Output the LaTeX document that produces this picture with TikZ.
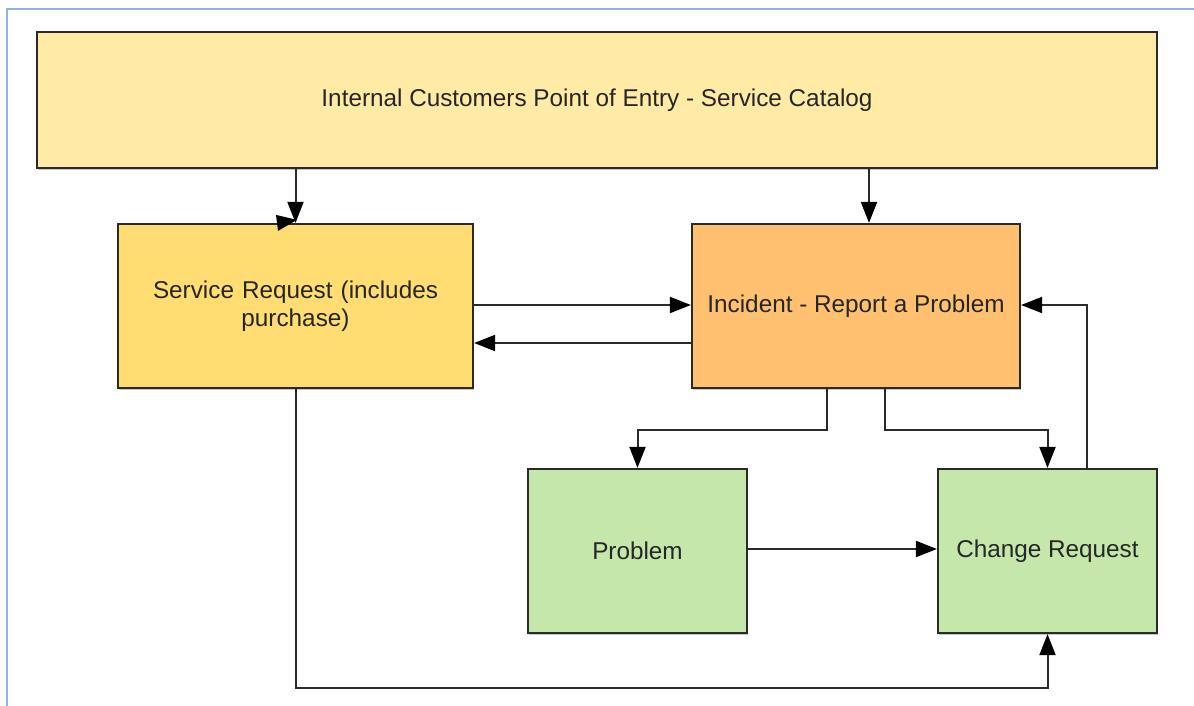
\documentclass[tikz,border=0pt]{standalone}
\usepackage{fontspec}
\setmainfont{Liberation Sans}
\usetikzlibrary{arrows.meta,shadows}
\definecolor{edgegray}{HTML}{2A2A2A}
\definecolor{txtgray}{HTML}{262626}
\definecolor{framecol}{RGB}{141,180,226}
\definecolor{catfill}{RGB}{255,235,166}
\definecolor{reqfill}{RGB}{255,221,115}
\definecolor{incfill}{RGB}{255,193,112}
\definecolor{grnfill}{RGB}{198,231,171}
\tikzset{
  box/.style={draw=edgegray, line width=2.2pt, rectangle, inner sep=0pt,
    align=center, text=txtgray,
    font=\fontsize{24.3}{28.5}\selectfont,
    drop shadow={shadow xshift=1pt, shadow yshift=-1.5pt, fill=black, opacity=0.22}},
  arr/.style={draw=edgegray, line width=2pt,
    -{Triangle[length=21pt,width=16pt,color=black]}}
}
\begin{document}
\begin{tikzpicture}[x=1pt,y=-1pt]
\useasboundingbox (0,0) rectangle (1194,706);
\fill[white] (0,0) rectangle (1194,706);
% outer frame line (top and left)
\draw[framecol, line width=1.6pt] (7,706) -- (7,9) -- (1194,9);

% boxes
\node[box, fill=catfill, minimum width=1120pt, minimum height=136pt] (cat) at (597,100)
  {Internal Customers Point of Entry - Service Catalog};
\node[box, fill=reqfill, minimum width=355pt, minimum height=164pt, text width=320pt] (req) at (295.5,306)
  {Service Request (includes\\purchase)};
\node[box, fill=incfill, minimum width=328pt, minimum height=164pt] (inc) at (856,306)
  {Incident - Report a Problem};
\node[box, fill=grnfill, minimum width=219pt, minimum height=164pt] (prob) at (637.5,551)
  {Problem};
\node[box, fill=grnfill, minimum width=219pt, minimum height=164pt] (chg) at (1047.5,551)
  {Change Request};

% entry point on the incident box
\coordinate (incin) at ([xshift=13pt]inc.north);

% connectors
\draw[arr] (cat.south -| req.north) -- (req.north);
\fill[black] (req.north) ++(1.5,-3) -- ++(-21,-5) -- ++(2,16) -- cycle;
\draw[arr] (cat.south -| incin) -- (incin);
\draw[arr] ([yshift=1pt]req.east) -- ([yshift=1pt]inc.west);
\draw[arr] ([yshift=-37pt]inc.west) -- ([yshift=-37pt]req.east);
\draw[arr] ([xshift=-29pt]inc.south) -- ++(0,41) -| (prob.north);
\draw[arr] ([xshift=29pt]inc.south) -- ++(0,41) -| (chg.north);
\draw[arr] ([xshift=39.5pt]chg.north) |- ([yshift=1pt]inc.east);
\draw[arr] ([yshift=2pt]prob.east) -- ([yshift=2pt]chg.west);
\draw[arr] (req.south) -- ++(0,299) -| (chg.south);
\end{tikzpicture}
\end{document}
